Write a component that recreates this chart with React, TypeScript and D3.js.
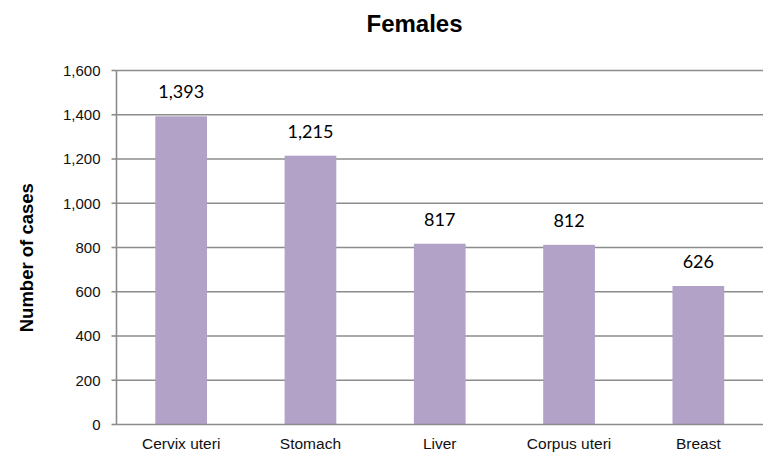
import React from "react";
import * as d3 from "d3";

const categories = ["Cervix uteri", "Stomach", "Liver", "Corpus uteri", "Breast"];
const values = [1393, 1215, 817, 812, 626];
const yTicks = [0, 200, 400, 600, 800, 1000, 1200, 1400, 1600];
const title = "Females";
const yTitle = "Number of cases";

export default function App() {
  const W = 771, H = 452;
  const left = 116.5, right = 763, top = 70.5, bottom = 424.5;
  const x = d3.scaleBand<string>().domain(categories).range([left, right]).paddingInner(0.6).paddingOuter(0.3);
  const y = d3.scaleLinear().domain([0, 1600]).range([bottom, top]);
  const fmt = d3.format(",");
  const grid = "#8c8c8c";
  const sans = "Liberation Sans, Arial, sans-serif";
  return (
    <div style={{ position: "absolute", left: 0, top: 0 }}>
      <svg width={W} height={H} style={{ display: "block" }}>
        <rect width={W} height={H} fill="#fff" />
        <text x={414.5} y={32} textAnchor="middle" fontFamily={sans} fontWeight="bold" fontSize={24}>{title}</text>
        {yTicks.map(t => (
          <g key={t}>
            {t > 0 && <line x1={left} x2={right} y1={y(t)} y2={y(t)} stroke={grid} strokeWidth={1.6} />}
            <line x1={left - 5} x2={left} y1={y(t)} y2={y(t)} stroke={grid} strokeWidth={1.6} />
            <text x={left - 16} y={y(t)} dy="0.36em" textAnchor="end" fontFamily={sans} fontSize={15} fill="#111">{fmt(t)}</text>
          </g>
        ))}
        {categories.map((c, i) => (
          <g key={c}>
            <rect x={x(c)} y={y(values[i])} width={x.bandwidth()} height={bottom - y(values[i])} fill="#b2a2c7" />
            <text x={x(c)! + x.bandwidth() / 2} y={y(values[i]) - 18} textAnchor="middle" fontFamily="Lato, Open Sans, sans-serif" fontSize={18} fill="#000">{fmt(values[i])}</text>
            <text x={x(c)! + x.bandwidth() / 2} y={449} textAnchor="middle" fontFamily={sans} fontSize={15.5} fill="#111">{c}</text>
          </g>
        ))}
        <line x1={left} x2={right} y1={bottom} y2={bottom} stroke={grid} strokeWidth={1.6} />
        <line x1={left} x2={left} y1={top} y2={bottom} stroke={grid} strokeWidth={1.6} />
        <text transform={`translate(32.7,257.7) rotate(-90)`} textAnchor="middle" fontFamily={sans} fontWeight="bold" fontSize={18.5}>{yTitle}</text>
      </svg>
    </div>
  );
}
